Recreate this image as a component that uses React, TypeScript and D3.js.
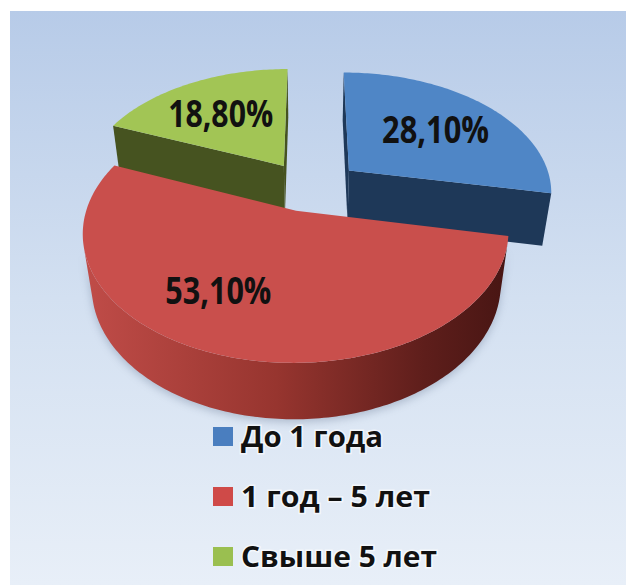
import * as d3 from "d3";

// chart data
const categories = ["До 1 года", "1 год – 5 лет", "Свыше 5 лет"];
const shares = [28.1, 53.1, 18.8];
const shareLabels = ["28,10%", "53,10%", "18,80%"];

const topColors = ["#4f86c6", "#c94f4c", "#a2c555"];
const sideColors = ["#1e3858", "url(#redSide)", "#465320"];
const legendColors = ["#4a7ebf", "#cf4a48", "#9abf50"];

// layout
const W = 627;
const H = 585;
const cx = 311;
const cy = 186;
const F = 1015;
const D = 5;
const tilt = Math.asin(0.584);
const thick = 0.33;
const explode = 0.21;
const explodeX = 0.247;
const labelR = 0.6;
const labelWidths = [107, 106, 105];
const legendWidths = [142, 189, 196];
const labelNudge = [[2, 0], [-36, 0], [-4, 0]];

const sinT = Math.sin(tilt);
const cosT = Math.cos(tilt);

// x right, y up, zb away from viewer
function project(x: number, y: number, zb: number): [number, number] {
  const z = -zb;
  const depth = D - (y * sinT + z * cosT);
  return [cx + (F * x) / depth, cy - (F * (y * cosT - z * sinT)) / depth];
}

const cam = [0, D * sinT, -D * cosT];
function facing(n: number[], p: number[]) {
  return n[0] * (cam[0] - p[0]) + n[1] * (cam[1] - p[1]) + n[2] * (cam[2] - p[2]) > 0;
}

const line = d3.line();
const poly = (pts: [number, number][]) => line(pts) + "Z";

export default function App() {
  const arcs = d3.pie<number>().sort(null).value((d) => d)(shares);

  const slices = arcs.map((a, i) => {
    const s = a.startAngle;
    const e = a.endAngle;
    const m = (s + e) / 2;
    const ex = explodeX * Math.sin(m);
    const ez = explode * Math.cos(m);
    const pt = (t: number, r: number, y: number) =>
      project(r * Math.sin(t) + ex, y, r * Math.cos(t) + ez);
    const n = Math.ceil((e - s) / (Math.PI / 180));
    const ts = d3.range(n + 1).map((k) => s + ((e - s) * k) / n);

    const top = poly([pt(0, 0, 0), ...ts.map((t) => pt(t, 1, 0))]);

    const vis = ts.filter((t) =>
      facing([Math.sin(t), 0, Math.cos(t)], [Math.sin(t) + ex, 0, Math.cos(t) + ez])
    );
    const outer =
      vis.length > 1
        ? poly([
            ...vis.map((t) => pt(t, 1, 0)),
            ...vis.slice().reverse().map((t) => pt(t, 1, -thick)),
          ])
        : null;

    const radial = [
      [s, s - Math.PI / 2],
      [e, e + Math.PI / 2],
    ]
      .filter(([ang, psi]) =>
        facing(
          [Math.sin(psi), 0, Math.cos(psi)],
          [0.5 * Math.sin(ang) + ex, -thick / 2, 0.5 * Math.cos(ang) + ez]
        )
      )
      .map(([ang]) =>
        poly([pt(0, 0, 0), pt(ang, 1, 0), pt(ang, 1, -thick), pt(0, 0, -thick)])
      );

    const lp = pt(m, labelR, 0);
    return { i, ez, top, outer, radial, label: [lp[0] + labelNudge[i][0], lp[1] + labelNudge[i][1]] };
  });

  const order = slices.slice().sort((a, b) => b.ez - a.ez);

  return (
    <svg
      width={W}
      height={H}
      style={{ position: "absolute", left: 0, top: 0, fontFamily: "'Open Sans', sans-serif" }}
    >
      <defs>
        <linearGradient id="bg" x1="0" y1="0" x2="0" y2="1">
          <stop offset="0" stopColor="#b7cbe8" />
          <stop offset="0.5" stopColor="#d3e0f1" />
          <stop offset="1" stopColor="#e8eff8" />
        </linearGradient>
        <linearGradient id="redSide" gradientUnits="userSpaceOnUse" x1="85" y1="0" x2="510" y2="0">
          <stop offset="0" stopColor="#c04c48" />
          <stop offset="0.45" stopColor="#97352f" />
          <stop offset="0.8" stopColor="#5e1e1b" />
          <stop offset="1" stopColor="#471513" />
        </linearGradient>
        <filter id="blur" x="-20%" y="-20%" width="140%" height="140%">
          <feGaussianBlur stdDeviation="4" />
        </filter>
      </defs>
      <rect x={10} y={11} width={616} height={574} fill="url(#bg)" />

      {slices[1].outer && (
        <path d={slices[1].outer} fill="#5a6a86" opacity={0.35} filter="url(#blur)" transform="translate(0,3)" />
      )}

      {order.map((sl) => (
        <g key={sl.i}>
          {sl.radial.map((d, k) => (
            <path key={k} d={d} fill={sl.i === 1 ? "#7a2a27" : sideColors[sl.i]} />
          ))}
          {sl.outer && <path d={sl.outer} fill={sideColors[sl.i]} />}
          <path d={sl.top} fill={topColors[sl.i]} />
        </g>
      ))}

      {slices.map((sl) => (
        <text
          key={sl.i}
          x={sl.label[0]}
          y={sl.label[1] + 13}
          textAnchor="middle"
          fontSize={37}
          fontWeight="bold"
          fill="#111"
          textLength={labelWidths[sl.i]}
          lengthAdjust="spacingAndGlyphs"
        >
          {shareLabels[sl.i]}
        </text>
      ))}

      {categories.map((c, i) => (
        <g key={c} transform={`translate(213,${447 + i * 60})`}>
          <rect x={0} y={-20} width={20} height={19} fill={legendColors[i]} />
          <text
            x={28}
            y={0}
            fontSize={28}
            fontWeight="bold"
            fill="#111"
            stroke="#ffffff"
            strokeOpacity={0.6}
            strokeWidth={3}
            paintOrder="stroke"
            textLength={legendWidths[i]}
            lengthAdjust="spacingAndGlyphs"
          >
            {c}
          </text>
        </g>
      ))}
    </svg>
  );
}
